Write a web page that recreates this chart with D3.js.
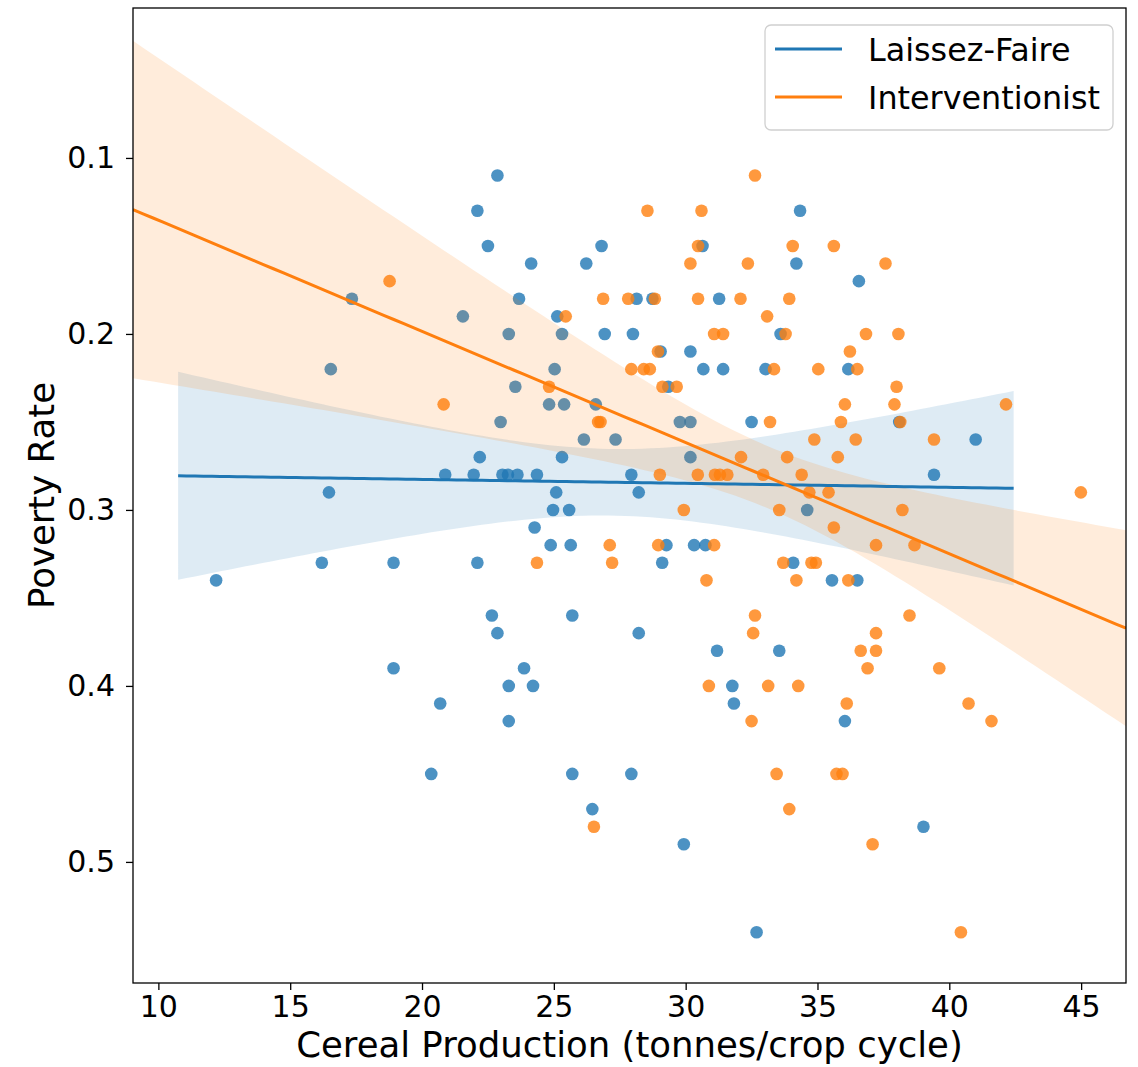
<!DOCTYPE html>
<html>
<head>
<meta charset="utf-8">
<script src="https://cdn.jsdelivr.net/npm/d3@7"></script>
<style>
  body { margin: 0; background: #fff; }
  text { font-family: "DejaVu Sans", sans-serif; }
</style>
</head>
<body>
<svg id="chart"></svg>
<script>
// Laissez-Faire points (cereal production, poverty rate)
var lfX = [22.10, 22.50, 17.34, 21.55, 16.54, 22.86, 26.81, 30.64, 24.14, 26.23,
	23.68, 28.14, 28.74, 31.27, 25.13, 23.29, 25.31, 26.93, 28.00, 33.60,
	29.05, 30.18, 25.03, 30.67, 31.42, 33.03, 23.54, 29.34, 24.82, 25.39,
	26.59, 22.98, 29.78, 30.18, 32.50, 34.34, 34.20, 36.57, 36.17, 38.10,
	22.19, 20.88, 21.96, 16.47, 16.20, 18.92, 22.10, 12.19, 22.65, 18.92,
	26.14, 27.34, 25.31, 30.18, 23.05, 23.26, 23.62, 24.36, 27.94, 25.09,
	28.22, 24.97, 25.58, 24.27, 24.88, 25.64, 29.27, 30.32, 30.75, 29.11,
	25.70, 22.86, 28.22, 31.19, 33.55, 23.87, 23.29, 24.21, 31.77, 41.00,
	39.42, 34.61, 34.08, 35.55, 36.51, 20.69, 20.35, 31.83, 23.29, 25.70,
	27.94, 26.46, 29.93, 32.69, 36.04, 39.02];
var lfY = [0.13, 0.15, 0.18, 0.19, 0.22, 0.11, 0.15, 0.15, 0.16, 0.16,
	0.18, 0.18, 0.18, 0.18, 0.19, 0.20, 0.20, 0.20, 0.20, 0.20,
	0.21, 0.21, 0.22, 0.22, 0.22, 0.22, 0.23, 0.23, 0.24, 0.24,
	0.24, 0.25, 0.25, 0.25, 0.25, 0.13, 0.16, 0.17, 0.22, 0.25,
	0.27, 0.28, 0.28, 0.29, 0.33, 0.33, 0.33, 0.34, 0.36, 0.39,
	0.26, 0.26, 0.27, 0.27, 0.28, 0.28, 0.28, 0.28, 0.28, 0.29,
	0.29, 0.30, 0.30, 0.31, 0.32, 0.32, 0.32, 0.32, 0.32, 0.33,
	0.36, 0.37, 0.37, 0.38, 0.38, 0.39, 0.40, 0.40, 0.40, 0.26,
	0.28, 0.30, 0.33, 0.34, 0.34, 0.41, 0.45, 0.41, 0.42, 0.45,
	0.45, 0.47, 0.49, 0.54, 0.42, 0.48];

// Interventionist points
var intX = [18.77, 20.82, 32.63, 28.55, 30.60, 30.47, 30.18, 32.36, 26.87, 27.82,
	28.83, 30.47, 32.08, 25.45, 33.09, 31.08, 31.42, 28.95, 27.94, 28.41,
	28.64, 33.35, 24.82, 29.12, 29.66, 26.68, 26.77, 33.20, 34.06, 35.62,
	37.58, 33.93, 33.79, 36.84, 38.07, 36.23, 35.03, 36.51, 38.00, 36.04,
	37.92, 42.15, 35.89, 38.14, 32.10, 29.02, 30.46, 31.11, 31.30, 31.58,
	32.94, 29.93, 33.55, 27.12, 28.96, 31.08, 24.36, 27.21, 33.70, 30.79,
	32.63, 32.56, 30.88, 33.13, 34.88, 36.45, 39.42, 33.85, 35.77, 34.40,
	34.69, 35.42, 44.99, 38.22, 35.62, 37.22, 38.68, 34.77, 34.94, 34.20,
	36.17, 38.49, 37.22, 36.64, 37.22, 36.90, 39.62, 34.27, 32.50, 33.45,
	26.52, 36.11, 40.73, 41.60, 35.72, 35.95, 33.93, 37.09, 40.44];
var intY = [0.17, 0.24, 0.11, 0.13, 0.13, 0.15, 0.16, 0.16, 0.18, 0.18,
	0.18, 0.18, 0.18, 0.19, 0.19, 0.20, 0.20, 0.21, 0.22, 0.22,
	0.22, 0.22, 0.23, 0.23, 0.23, 0.25, 0.25, 0.25, 0.15, 0.15,
	0.16, 0.18, 0.20, 0.20, 0.20, 0.21, 0.22, 0.22, 0.23, 0.24,
	0.24, 0.24, 0.25, 0.25, 0.27, 0.28, 0.28, 0.28, 0.28, 0.28,
	0.28, 0.30, 0.30, 0.32, 0.32, 0.32, 0.33, 0.33, 0.33, 0.34,
	0.36, 0.37, 0.40, 0.40, 0.26, 0.26, 0.26, 0.27, 0.27, 0.28,
	0.29, 0.29, 0.29, 0.30, 0.31, 0.32, 0.32, 0.33, 0.33, 0.34,
	0.34, 0.36, 0.37, 0.38, 0.38, 0.39, 0.39, 0.40, 0.42, 0.45,
	0.48, 0.41, 0.41, 0.42, 0.45, 0.45, 0.47, 0.49, 0.54];

var seriesNames = ['Laissez-Faire', 'Interventionist'];
var seriesColors = ['#1f77b4', '#ff7f0e'];
var xTicks = [10, 15, 20, 25, 30, 35, 40, 45];
var yTicks = [0.1, 0.2, 0.3, 0.4, 0.5];
var yLimits = [0.0148, 0.5688];

var width = 1138, height = 1067;
var margin = { top: 8, right: 12, bottom: 84, left: 133 };

var svg = d3.select('#chart')
	.attr('width', width)
	.attr('height', height);

// x limits the way matplotlib autoscaled them (5% margins, blue first)
function padded(lo, hi) {
	var m = (hi - lo) * 0.05;
	return [lo - m, hi + m];
}
var lfRange = padded(d3.min(lfX), d3.max(lfX));
var xLimits = padded(Math.min(lfRange[0], d3.min(intX)), Math.max(lfRange[1], d3.max(intX)));

var x = d3.scaleLinear().domain(xLimits).range([margin.left, width - margin.right]);
var y = d3.scaleLinear().domain(yLimits).range([margin.top, height - margin.bottom]);

// ordinary least squares with 95% confidence band for the mean
function regression(xs, ys, lo, hi) {
	var n = xs.length;
	var mx = d3.mean(xs), my = d3.mean(ys);
	var sxx = 0, sxy = 0;
	for (var i = 0; i < n; i++) {
		sxx += (xs[i] - mx) * (xs[i] - mx);
		sxy += (xs[i] - mx) * (ys[i] - my);
	}
	var b = sxy / sxx, a = my - b * mx;
	var sse = 0;
	for (var j = 0; j < n; j++) sse += Math.pow(ys[j] - a - b * xs[j], 2);
	var s = Math.sqrt(sse / (n - 2));
	var t = 1.985;
	var grid = d3.range(100).map(function(k) { return lo + (hi - lo) * k / 99; });
	return grid.map(function(g) {
		var yh = a + b * g;
		var se = s * Math.sqrt(1 / n + (g - mx) * (g - mx) / sxx);
		return { x: g, y: yh, lo: yh - t * se, hi: yh + t * se };
	});
}

var fits = [
	regression(lfX, lfY, lfRange[0], lfRange[1]),
	regression(intX, intY, xLimits[0], xLimits[1])
];
var points = [
	lfX.map(function(v, i) { return [v, lfY[i]]; }),
	intX.map(function(v, i) { return [v, intY[i]]; })
];

var plot = svg.append('g');
svg.append('clipPath').attr('id', 'clip')
	.append('rect')
	.attr('x', margin.left).attr('y', margin.top)
	.attr('width', width - margin.left - margin.right)
	.attr('height', height - margin.top - margin.bottom);
plot.attr('clip-path', 'url(#clip)');

var area = d3.area()
	.x(function(d) { return x(d.x); })
	.y0(function(d) { return y(d.lo); })
	.y1(function(d) { return y(d.hi); });
var line = d3.line()
	.x(function(d) { return x(d.x); })
	.y(function(d) { return y(d.y); });

// collections first (scatter, band), then lines, like matplotlib zorder
[0, 1].forEach(function(s) {
	plot.append('g').selectAll('circle')
		.data(points[s])
		.enter().append('circle')
		.attr('cx', function(d) { return x(d[0]); })
		.attr('cy', function(d) { return y(d[1]); })
		.attr('r', 6.3)
		.attr('fill', seriesColors[s])
		.attr('fill-opacity', 0.8);

	plot.append('path')
		.datum(fits[s])
		.attr('d', area)
		.attr('fill', seriesColors[s])
		.attr('fill-opacity', 0.15);
});
[0, 1].forEach(function(s) {
	plot.append('path')
		.datum(fits[s])
		.attr('d', line)
		.attr('fill', 'none')
		.attr('stroke', seriesColors[s])
		.attr('stroke-width', 3);
});

// axes
var xAxis = svg.append('g')
	.attr('transform', 'translate(0,' + (height - margin.bottom) + ')')
	.call(d3.axisBottom(x).tickValues(xTicks).tickSize(7).tickPadding(6).tickFormat(d3.format('d')));
var yAxis = svg.append('g')
	.attr('transform', 'translate(' + margin.left + ',0)')
	.call(d3.axisLeft(y).tickValues(yTicks).tickSize(7).tickPadding(11).tickFormat(d3.format('.1f')));
[xAxis, yAxis].forEach(function(ax) {
	ax.select('.domain').remove();
	ax.selectAll('line').attr('stroke', '#000').attr('stroke-width', 1.3);
	ax.selectAll('text').attr('font-size', '30px').attr('fill', '#000')
		.style('font-family', '"DejaVu Sans", sans-serif');
});

svg.append('rect')
	.attr('x', margin.left).attr('y', margin.top)
	.attr('width', width - margin.left - margin.right)
	.attr('height', height - margin.top - margin.bottom)
	.attr('fill', 'none')
	.attr('stroke', '#000')
	.attr('stroke-width', 1.3);

svg.append('text')
	.attr('x', (margin.left + width - margin.right) / 2)
	.attr('y', 1057)
	.attr('text-anchor', 'middle')
	.attr('font-size', '35.5px')
	.text('Cereal Production (tonnes/crop cycle)');

svg.append('text')
	.attr('transform', 'translate(54,' + ((margin.top + height - margin.bottom) / 2) + ') rotate(-90)')
	.attr('text-anchor', 'middle')
	.attr('font-size', '35.5px')
	.text('Poverty Rate');

// legend
var legend = svg.append('g');
legend.append('rect')
	.attr('x', 765).attr('y', 25)
	.attr('width', 348).attr('height', 105)
	.attr('rx', 6)
	.attr('fill', '#fff').attr('fill-opacity', 0.8)
	.attr('stroke', '#d0d0d0').attr('stroke-width', 1.3);
seriesNames.forEach(function(name, i) {
	var ly = 49 + i * 48;
	legend.append('line')
		.attr('x1', 775).attr('x2', 842)
		.attr('y1', ly).attr('y2', ly)
		.attr('stroke', seriesColors[i])
		.attr('stroke-width', 3);
	legend.append('text')
		.attr('x', 868).attr('y', ly + 12)
		.attr('font-size', '31.8px')
		.text(name);
});
</script>
</body>
</html>
